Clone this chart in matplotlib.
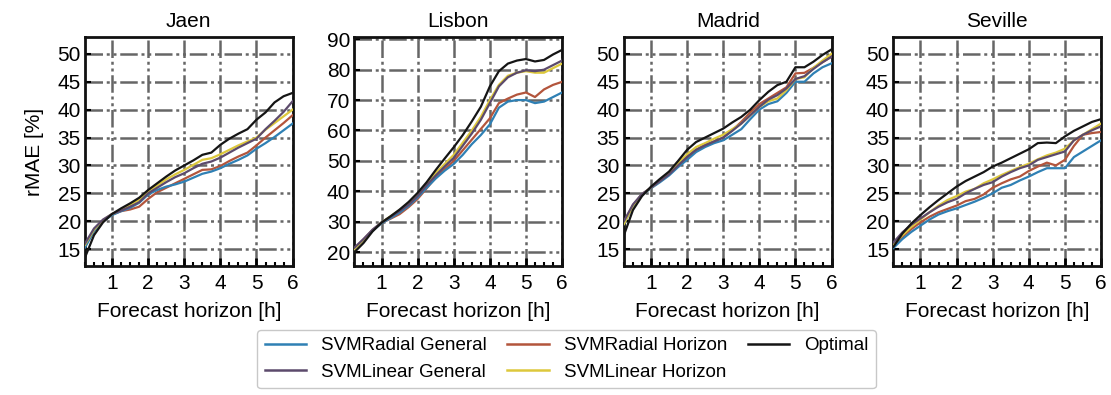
import matplotlib
matplotlib.use('Agg')
import matplotlib.pyplot as plt
from matplotlib.ticker import MultipleLocator

plt.rcParams['font.family'] = ['Liberation Sans', 'DejaVu Sans']
plt.rcParams['font.size'] = 15

# forecast horizon, 15 min steps
horizon = [0.25, 0.5, 0.75, 1.0, 1.25, 1.5, 1.75, 2.0, 2.25, 2.5, 2.75, 3.0,
           3.25, 3.5, 3.75, 4.0, 4.25, 4.5, 4.75, 5.0, 5.25, 5.5, 5.75, 6.0]

sites = ['Jaen', 'Lisbon', 'Madrid', 'Seville']

# rMAE [%] per site and model
jaen_rad_gen = [15.3, 18.2, 20.0, 21.1, 21.8, 22.4, 23.3, 24.8, 25.6, 26.2, 26.6, 27.1,
                27.8, 28.5, 28.9, 29.5, 30.3, 31.0, 31.8, 33.0, 34.0, 35.1, 36.3, 37.5]
jaen_lin_gen = [16.0, 18.7, 20.3, 21.3, 21.9, 22.6, 23.4, 25.0, 26.0, 27.0, 27.9, 28.6,
                29.5, 30.3, 30.7, 31.4, 32.3, 33.2, 34.0, 34.8, 36.5, 38.0, 39.6, 41.5]
jaen_rad_hor = [15.5, 18.3, 20.0, 21.2, 21.8, 22.1, 22.6, 24.0, 25.2, 26.0, 26.8, 27.6,
                28.4, 29.2, 29.3, 29.9, 30.8, 31.6, 32.3, 33.6, 35.0, 36.3, 37.6, 39.0]
jaen_lin_hor = [15.8, 18.5, 20.2, 21.3, 22.0, 22.9, 23.8, 25.3, 26.4, 27.5, 28.4, 29.2,
                30.1, 31.0, 31.3, 32.0, 32.8, 33.6, 34.3, 35.0, 36.4, 37.6, 38.8, 40.0]
jaen_opt = [13.5, 17.5, 19.8, 21.3, 22.3, 23.2, 24.2, 25.6, 26.8, 28.0, 29.1, 30.0,
            30.9, 31.9, 32.3, 33.7, 34.8, 35.7, 36.5, 38.2, 39.5, 41.3, 42.4, 43.0]

lisbon_rad_gen = [21.0, 24.0, 27.0, 29.5, 31.2, 33.0, 35.2, 38.0, 41.2, 44.2, 46.8, 49.0,
                  52.0, 55.5, 58.5, 62.0, 67.5, 69.5, 70.0, 70.0, 69.0, 69.5, 71.0, 72.5]
lisbon_lin_gen = [21.5, 24.3, 27.4, 29.8, 31.6, 33.5, 35.6, 38.5, 42.0, 45.2, 48.2, 51.0,
                  55.0, 59.0, 63.5, 69.0, 74.5, 77.5, 79.0, 79.8, 79.5, 80.0, 81.5, 83.0]
lisbon_rad_hor = [21.2, 24.2, 27.2, 29.6, 31.0, 32.5, 34.8, 37.5, 41.0, 44.5, 47.3, 50.0,
                  53.5, 57.0, 60.5, 64.0, 69.0, 70.5, 71.8, 72.5, 71.0, 73.5, 75.0, 76.0]
lisbon_lin_hor = [21.0, 24.0, 27.2, 29.8, 31.8, 33.8, 36.0, 39.0, 42.5, 46.0, 49.0, 52.0,
                  56.0, 60.0, 64.5, 70.0, 75.0, 78.0, 79.0, 79.5, 79.0, 79.0, 80.5, 82.0]
lisbon_opt = [20.0, 23.0, 26.8, 29.7, 31.8, 34.0, 36.5, 39.5, 43.0, 47.0, 50.8, 54.5,
              58.5, 63.0, 67.8, 74.5, 79.5, 82.0, 83.0, 83.5, 82.7, 83.2, 85.0, 86.5]

madrid_rad_gen = [19.5, 22.7, 24.7, 25.9, 27.0, 28.2, 29.7, 31.0, 32.4, 33.3, 34.0, 34.5,
                  35.5, 36.5, 38.3, 40.0, 41.0, 41.5, 43.0, 45.0, 45.0, 46.5, 47.6, 48.3]
madrid_lin_gen = [20.0, 23.0, 24.9, 26.0, 27.2, 28.4, 30.0, 31.5, 32.8, 33.6, 34.3, 35.0,
                  36.2, 37.5, 39.0, 40.5, 41.8, 42.6, 43.8, 45.5, 46.0, 47.3, 48.5, 49.5]
madrid_rad_hor = [19.8, 22.9, 24.8, 26.0, 27.2, 28.5, 30.0, 31.5, 32.8, 33.7, 34.3, 35.0,
                  36.3, 37.8, 39.5, 41.0, 42.0, 43.0, 44.0, 46.5, 46.6, 47.5, 48.5, 49.5]
madrid_lin_hor = [19.5, 22.8, 24.8, 26.0, 27.3, 28.6, 30.4, 32.0, 33.3, 34.0, 34.8, 35.5,
                  36.5, 37.5, 39.0, 40.5, 41.5, 42.0, 43.5, 45.5, 45.8, 47.5, 48.8, 50.0]
madrid_opt = [17.5, 22.0, 24.5, 26.2, 27.6, 28.9, 30.8, 32.8, 34.2, 35.0, 35.8, 36.6,
              37.7, 38.7, 40.0, 41.7, 43.2, 44.4, 45.0, 47.6, 47.6, 48.6, 49.8, 50.8]

seville_rad_gen = [15.2, 16.8, 18.1, 19.2, 20.3, 21.2, 21.8, 22.3, 22.9, 23.5, 24.2, 25.0,
                   26.0, 26.5, 27.3, 28.0, 28.8, 29.5, 29.5, 29.5, 31.5, 32.5, 33.5, 34.5]
seville_lin_gen = [16.2, 18.0, 19.4, 20.5, 21.6, 22.6, 23.4, 24.0, 25.0, 25.8, 26.5, 27.0,
                   28.0, 28.8, 29.5, 30.0, 31.0, 31.5, 32.0, 32.5, 34.5, 35.5, 36.3, 37.0]
seville_rad_hor = [15.5, 17.2, 18.6, 19.8, 20.8, 21.6, 22.2, 22.8, 23.6, 24.0, 24.8, 26.0,
                   26.8, 27.5, 28.0, 29.0, 29.8, 30.5, 30.0, 31.0, 33.5, 35.5, 35.8, 36.0]
seville_lin_hor = [15.8, 17.5, 19.0, 20.3, 21.6, 22.8, 23.8, 24.5, 25.3, 25.8, 26.8, 27.5,
                   28.3, 29.0, 29.7, 30.3, 31.1, 31.8, 32.3, 33.0, 34.5, 35.5, 36.5, 37.5]
seville_opt = [15.4, 17.8, 19.6, 21.1, 22.5, 23.8, 25.0, 26.2, 27.2, 28.0, 28.8, 29.8,
               30.5, 31.3, 32.1, 32.9, 34.0, 34.1, 34.0, 35.2, 36.2, 37.0, 37.8, 38.3]

models = ['SVMRadial General', 'SVMLinear General', 'SVMRadial Horizon',
          'SVMLinear Horizon', 'Optimal']
colors = ['#2f80b4', '#5c4a6c', '#b3553c', '#ddc83c', '#151515']

data = {
    'Jaen': [jaen_rad_gen, jaen_lin_gen, jaen_rad_hor, jaen_lin_hor, jaen_opt],
    'Lisbon': [lisbon_rad_gen, lisbon_lin_gen, lisbon_rad_hor, lisbon_lin_hor, lisbon_opt],
    'Madrid': [madrid_rad_gen, madrid_lin_gen, madrid_rad_hor, madrid_lin_hor, madrid_opt],
    'Seville': [seville_rad_gen, seville_lin_gen, seville_rad_hor, seville_lin_hor, seville_opt],
}
# draw order: horizon models under the general ones, optimal on top
draw_order = [2, 0, 3, 1, 4]

fig, axes = plt.subplots(1, 4, figsize=(11.11, 3.95), dpi=100)
fig.subplots_adjust(left=0.0765, right=0.991, top=0.906, bottom=0.327, wspace=0.298)

grid_dash = (0, (7, 1.5, 1.2, 1.5, 1.2, 1.5))
handles = [None] * len(models)
for ax, site in zip(axes, sites):
    for i in draw_order:
        ln, = ax.plot(horizon, data[site][i], color=colors[i], lw=1.6, label=models[i], zorder=3)
        handles[i] = ln
    ax.set_title(site, fontsize=15, pad=7)
    ax.set_xlabel('Forecast horizon [h]', fontsize=15, labelpad=6)
    ax.set_xlim(0.25, 6)
    ax.set_xticks([1, 2, 3, 4, 5, 6])
    ax.xaxis.set_minor_locator(MultipleLocator(0.25))
    if site == 'Lisbon':
        ax.set_ylim(15.5, 90.7)
        ax.set_yticks(range(20, 91, 10))
    else:
        ax.set_ylim(12, 53)
        ax.set_yticks(range(15, 51, 5))
    ax.grid(True, which='major', color='#666666', lw=1.8, linestyle=grid_dash, zorder=1)
    ax.set_axisbelow(True)
    ax.tick_params(axis='x', which='major', direction='in', length=6, width=2, labelsize=15, pad=6)
    ax.tick_params(axis='x', which='minor', direction='in', length=3, width=1.5)
    ax.tick_params(axis='y', which='major', direction='in', length=4, width=1.5, labelsize=15, pad=3)
    for sp in ax.spines.values():
        sp.set_linewidth(2)
        sp.set_color('#111111')

axes[0].set_ylabel('rMAE [%]', fontsize=15, labelpad=10)

leg = fig.legend(handles, models, loc='upper center', bbox_to_anchor=(0.51, 0.165),
                 ncol=3, fontsize=13.5, frameon=True, handlelength=2.2,
                 columnspacing=1.1, handletextpad=0.8, labelspacing=0.5,
                 borderpad=0.4, borderaxespad=0)
leg.get_frame().set_edgecolor('#bbbbbb')
for ln in leg.get_lines():
    ln.set_linewidth(1.8)

fig.savefig('out.png', dpi=100)
